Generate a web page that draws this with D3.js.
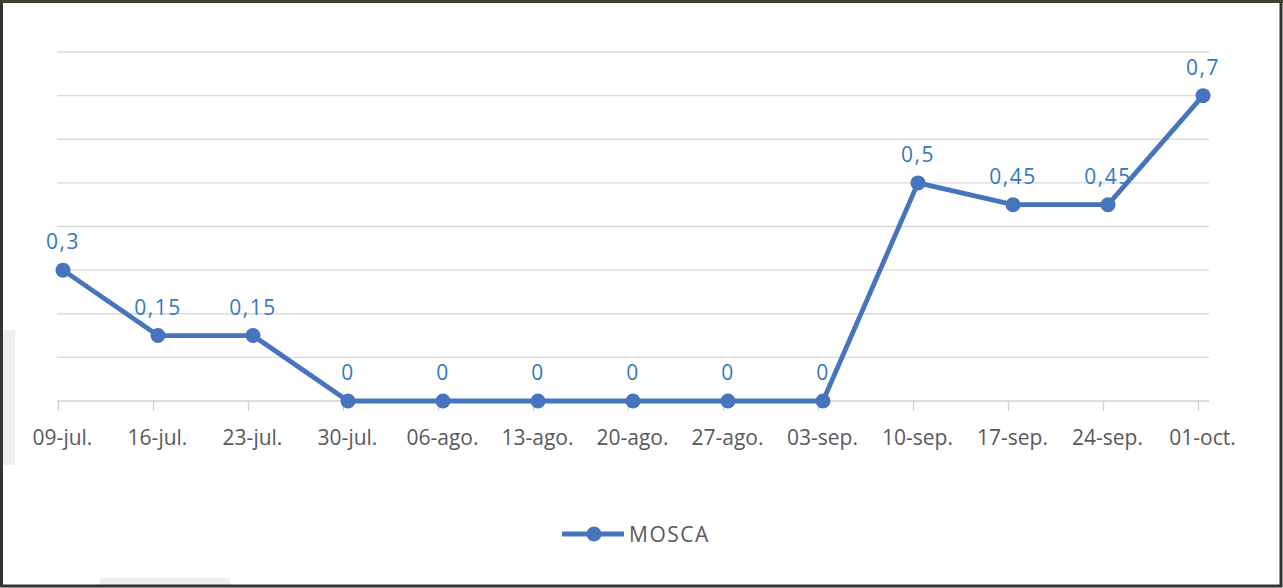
<!DOCTYPE html>
<html><head><meta charset="utf-8">
<script src="https://cdn.jsdelivr.net/npm/d3@7"></script>
<style>
html,body{margin:0;padding:0;background:#fff;}
svg{display:block;}
</style></head>
<body>
<svg id="chart" width="1283" height="588"></svg>
<script>
const categories = ["09-jul.","16-jul.","23-jul.","30-jul.","06-ago.","13-ago.","20-ago.","27-ago.","03-sep.","10-sep.","17-sep.","24-sep.","01-oct."];
const moscaValues = [0.3,0.15,0.15,0,0,0,0,0,0,0.5,0.45,0.45,0.7];
const valueLabels = ["0,3","0,15","0,15","0","0","0","0","0","0","0,5","0,45","0,45","0,7"];
const gridTicks = [0,0.1,0.2,0.3,0.4,0.5,0.6,0.7,0.8];
const seriesName = "MOSCA";

const svg = d3.select("#chart");
const W = 1283, H = 588;
const lineColor = "#4674bd";
const labelColor = "#3479c0";

svg.append("rect").attr("width",W).attr("height",H).attr("fill","#fff");
// scan artefacts
svg.append("rect").attr("x",3).attr("y",330).attr("width",12).attr("height",135).attr("fill","#efefef");
svg.append("rect").attr("x",100).attr("y",578).attr("width",130).attr("height",7).attr("fill","#eeeeee");

const x = d3.scalePoint().domain(categories).range([63,1203]);
const y = d3.scaleLinear().domain([0,0.8]).range([401,52]);

// gridlines
svg.append("g").selectAll("line").data(gridTicks.slice(1)).join("line")
  .attr("x1",57).attr("x2",1209)
  .attr("y1",d=>y(d)).attr("y2",d=>y(d))
  .attr("stroke","#d9d9d9").attr("stroke-width",1.3);

// x axis
const axis = svg.append("g").attr("transform","translate(-5,401)")
  .call(d3.axisBottom(x).tickSize(10).tickPadding(19));
axis.select(".domain").remove();
svg.append("line").attr("x1",57).attr("x2",1209).attr("y1",401).attr("y2",401)
  .attr("stroke","#d0d0d0").attr("stroke-width",1.5);
axis.selectAll(".tick line").attr("stroke","#d0d0d0").attr("stroke-width",1.3);
axis.selectAll(".tick text")
  .attr("transform","translate(4,0)")
  .attr("fill","#595959")
  .style("font-family","'Open Sans', sans-serif")
  .style("font-size","21px");

// line
const line = d3.line().x((d,i)=>x(categories[i])).y(d=>y(d));
svg.append("path").datum(moscaValues)
  .attr("d",line).attr("fill","none")
  .attr("stroke",lineColor).attr("stroke-width",4.8)
  .attr("stroke-linejoin","round");

svg.append("g").selectAll("circle").data(moscaValues).join("circle")
  .attr("cx",(d,i)=>x(categories[i])).attr("cy",d=>y(d))
  .attr("r",7.5).attr("fill",lineColor);

svg.append("g").selectAll("text").data(moscaValues).join("text")
  .attr("x",(d,i)=>x(categories[i]))
  .attr("y",d=>y(d)-21)
  .attr("text-anchor","middle")
  .attr("fill",labelColor)
  .style("font-family","'Open Sans', sans-serif")
  .style("font-size","21px")
  .style("letter-spacing","1.5px")
  .text((d,i)=>valueLabels[i]);

// legend
const lg = svg.append("g");
lg.append("line").attr("x1",562).attr("x2",624).attr("y1",534).attr("y2",534)
  .attr("stroke",lineColor).attr("stroke-width",4.8);
lg.append("circle").attr("cx",594).attr("cy",534).attr("r",7.5).attr("fill",lineColor);
lg.append("text").attr("x",629).attr("y",542)
  .attr("fill","#595959")
  .style("font-family","'Open Sans', sans-serif")
  .style("font-size","21px")
  .style("letter-spacing","1.5px")
  .text(seriesName);

// frame
svg.append("rect").attr("x",1.5).attr("y",1.5).attr("width",W-3.5).attr("height",H-3.5)
  .attr("fill","none").attr("stroke","#333333").attr("stroke-width",3);
svg.append("line").attr("x1",0).attr("x2",W).attr("y1",1.5).attr("y2",1.5)
  .attr("stroke","#3d4232").attr("stroke-width",3);
</script>
</body></html>
